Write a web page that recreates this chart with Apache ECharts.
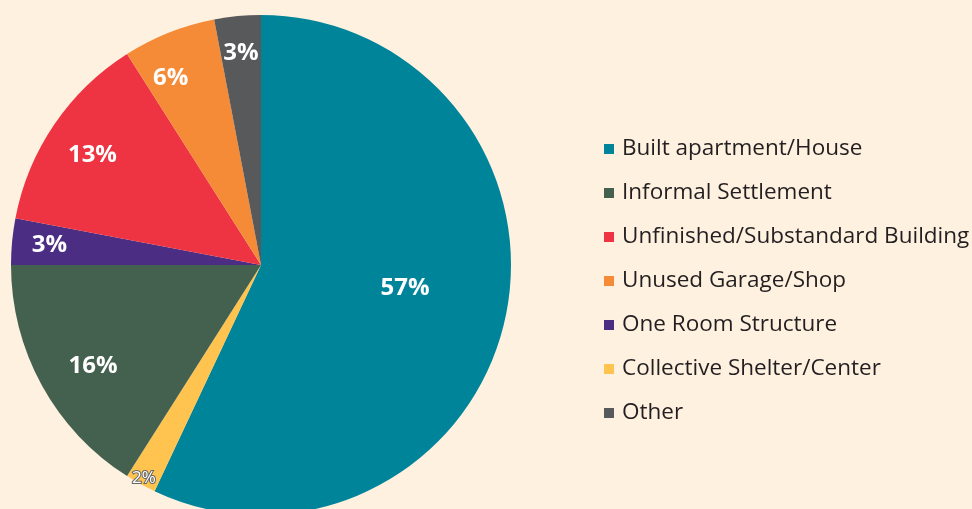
<!DOCTYPE html>
<html><head><meta charset="utf-8">
<script src="https://cdn.jsdelivr.net/npm/echarts@6/dist/echarts.min.js"></script>
<style>html,body{margin:0;padding:0;background:#FEF1E0;}#c{width:972px;height:509px;}</style>
</head><body><div id="c"></div>
<script>
const categories = ['Built apartment/House','Collective Shelter/Center','Informal Settlement','One Room Structure','Unfinished/Substandard Building','Unused Garage/Shop','Other'];
const values = [57, 2, 16, 3, 13, 6, 3];
const legendOrder = ['Built apartment/House','Informal Settlement','Unfinished/Substandard Building','Unused Garage/Shop','One Room Structure','Collective Shelter/Center','Other'];
const colors = ['#00849A','#FFC450','#44604E','#4B2D83','#EE3342','#F68B37','#58595B'];
const labelRadiusFactor = [0.57, 0.95, 0.765, 0.83, 0.785, 0.81, 0.83];
const labelAngleShift = [-3.3, 0, -2.2, 0, -1.2, -4.2, 0];

const CX = 261, CY = 265, R = 250;
const chart = echarts.init(document.getElementById('c'));
chart.setOption({
  backgroundColor: '#FEF1E0',
  animation: false,
  legend: {
    orient: 'vertical', left: 604, top: 136, padding: 0,
    data: legendOrder, icon: 'rect', itemWidth: 10, itemHeight: 10, itemGap: 18,
    textStyle: { fontFamily: 'Open Sans', fontSize: 22.5, color: '#231F20', lineHeight: 26, padding: [0,0,0,3] }
  },
  series: [{
    type: 'pie', center: [CX, CY], radius: R, startAngle: 90, clockwise: true,
    data: categories.map((n, i) => ({ name: n, value: values[i], itemStyle: { color: colors[i] },
      label: i === 1 ? { fontSize: 17, fontWeight: 'normal', textBorderColor: '#666', textBorderWidth: 2 } : {} })),
    label: { position: 'inside', formatter: '{d}%', color: '#fff', fontFamily: 'Open Sans', fontWeight: 'bold', fontSize: 24 },
    labelLine: { show: false },
    emphasis: { disabled: true },
    labelLayout: function (p) {
      const r = p.labelRect;
      const lx = r.x + r.width / 2, ly = r.y + r.height / 2;
      const rad0 = Math.hypot(lx - CX, ly - CY);
      const ang = Math.atan2(ly - CY, lx - CX) + labelAngleShift[p.dataIndex] * Math.PI / 180;
      const rad = rad0 * labelRadiusFactor[p.dataIndex] / 0.5;
      return { dx: CX + rad * Math.cos(ang) - lx, dy: CY + rad * Math.sin(ang) - ly };
    }
  }]
});
</script></body></html>
